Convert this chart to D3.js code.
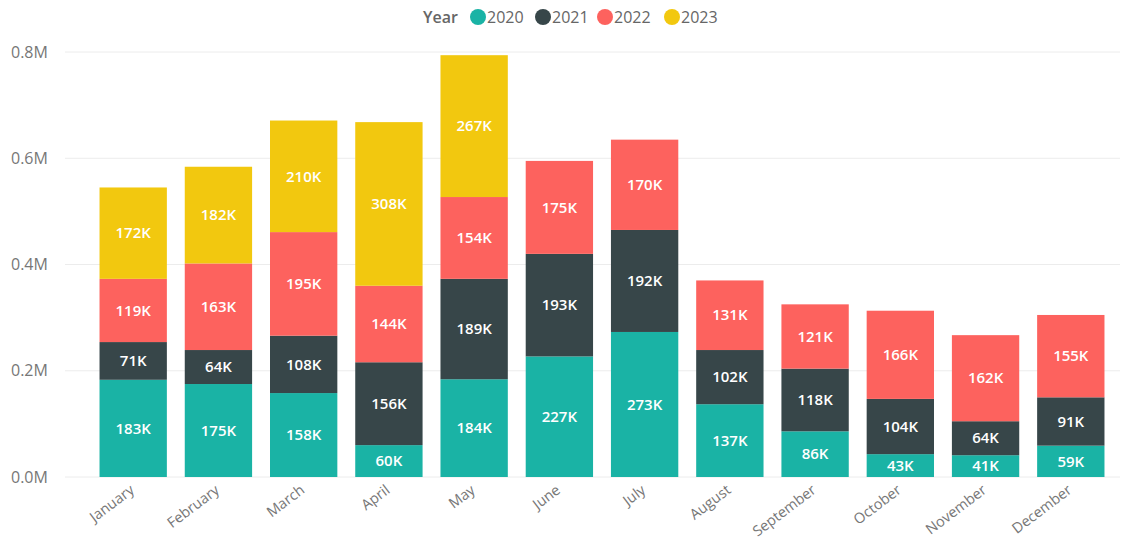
<!DOCTYPE html>
<html>
<head>
<meta charset="utf-8">
<script src="https://cdnjs.cloudflare.com/ajax/libs/d3/7.8.5/d3.min.js"></script>
<style>
    body { margin: 0; background: #fff; }
    text { font-family: "Open Sans", "DejaVu Sans", sans-serif; }
</style>
</head>
<body>
<svg id="chart" width="1127" height="540"></svg>
<script>
var months = ["January", "February", "March", "April", "May", "June", "July",
              "August", "September", "October", "November", "December"]
var years = ["2020", "2021", "2022", "2023"]
var colors = ["#1ab3a5", "#374649", "#fd625e", "#f2c80f"]

// values in thousands
var v2020 = [183, 175, 158, 60, 184, 227, 273, 137, 86, 43, 41, 59]
var v2021 = [71, 64, 108, 156, 189, 193, 192, 102, 118, 104, 64, 91]
var v2022 = [119, 163, 195, 144, 154, 175, 170, 131, 121, 166, 162, 155]
var v2023 = [172, 182, 210, 308, 267, 0, 0, 0, 0, 0, 0, 0]
var yTicks = [0, 200, 400, 600, 800]

var series = [v2020, v2021, v2022, v2023]
var rows = months.map(function(m, i) {
    var r = {month: m}
    years.forEach(function(y, j) { r[y] = series[j][i] })
    return r
})

var svg = d3.select("#chart")
var x = d3.scaleBand().domain(months).range([91, 1113]).paddingInner(0.21).paddingOuter(0.1)
var y = d3.scaleLinear().domain([0, 800]).range([477, 52])

// gridlines
svg.append("g")
    .selectAll("line")
    .data(yTicks)
    .enter()
        .append("line")
        .attr("x1", 65)
        .attr("x2", 1120)
        .attr("y1", function(d){return y(d)})
        .attr("y2", function(d){return y(d)})
        .attr("stroke", "#ececec")
        .attr("stroke-width", 1)

svg.append("g")
    .selectAll("text")
    .data(yTicks)
    .enter()
        .append("text")
        .attr("x", 11)
        .attr("y", function(d){return y(d)})
        .attr("dy", "0.35em")
        .attr("font-size", 16)
        .attr("fill", "#777")
        .text(function(d){return (d / 1000).toFixed(1) + "M"})

var stack = d3.stack().keys(years)(rows)

var layers = svg.append("g")
    .selectAll("g")
    .data(stack)
    .enter()
        .append("g")
        .attr("fill", function(d, i){return colors[i]})

layers.selectAll("rect")
    .data(function(d){return d.filter(function(p){return p[1] - p[0] > 0})})
    .enter()
        .append("rect")
        .attr("x", function(d){return x(d.data.month)})
        .attr("width", x.bandwidth())
        .attr("y", function(d){return y(d[1])})
        .attr("height", function(d){return y(d[0]) - y(d[1])})

layers.selectAll("text")
    .data(function(d){return d.filter(function(p){return p[1] - p[0] > 0})})
    .enter()
        .append("text")
        .attr("x", function(d){return x(d.data.month) + x.bandwidth() / 2})
        .attr("y", function(d){return (y(d[0]) + y(d[1])) / 2})
        .attr("dy", "0.35em")
        .attr("text-anchor", "middle")
        .attr("font-size", 15)
        .attr("font-weight", "600")
        .attr("fill", "#fff")
        .text(function(d){return (d[1] - d[0]) + "K"})

// month labels
svg.append("g")
    .selectAll("text")
    .data(months)
    .enter()
        .append("text")
        .attr("transform", function(d){
            return "translate(" + (x(d) + x.bandwidth() / 2 + 2) + ",492) rotate(-37)"
        })
        .attr("text-anchor", "end")
        .attr("font-size", 14.5)
        .attr("fill", "#777")
        .text(function(d){return d})

// legend
var legend = svg.append("g").attr("transform", "translate(423,17)")
legend.append("text")
    .attr("x", 0)
    .attr("dy", "0.35em")
    .attr("font-size", 16)
    .attr("font-weight", "600")
    .attr("fill", "#666")
    .text("Year")
var lx = [55, 120, 182, 249]
years.forEach(function(yr, i) {
    legend.append("circle")
        .attr("cx", lx[i])
        .attr("cy", 0)
        .attr("r", 8)
        .attr("fill", colors[i])
    legend.append("text")
        .attr("x", lx[i] + 9)
        .attr("dy", "0.35em")
        .attr("font-size", 16)
        .attr("fill", "#666")
        .text(yr)
})
</script>
</body>
</html>
